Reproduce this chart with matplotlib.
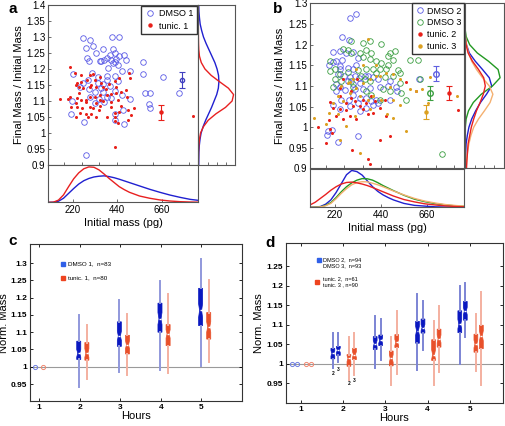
import numpy as np
import matplotlib.pyplot as plt
from matplotlib.lines import Line2D
from matplotlib.ticker import MultipleLocator, FuncFormatter

plt.rcParams['font.family'] = ['Liberation Sans', 'DejaVu Sans']

# ---------------- panel a : scatter data (initial mass pg, final/initial) ----------
dmso1_mass = [271, 304, 320, 284, 290, 300, 336, 369, 415, 448, 418, 427, 402, 389, 353, 361, 377, 410,
              435, 448, 471, 484, 427, 443, 418, 566, 569, 505, 463, 394, 664, 222, 317, 427, 443, 389,
              345, 271, 254, 300, 372, 402, 361, 328, 369, 427, 307, 389, 410, 464, 218, 348, 377, 504,
              579, 602, 599, 602, 467, 431, 471, 213, 276, 427, 287, 746, 389, 345, 328, 295]
dmso1_ratio = [1.296, 1.291, 1.273, 1.267, 1.233, 1.226, 1.249, 1.261, 1.299, 1.299, 1.261, 1.251, 1.244,
               1.233, 1.226, 1.226, 1.228, 1.228, 1.230, 1.241, 1.244, 1.228, 1.223, 1.212, 1.218, 1.223,
               1.184, 1.195, 1.195, 1.202, 1.174, 1.184, 1.186, 1.178, 1.164, 1.166, 1.155, 1.157, 1.143,
               1.136, 1.153, 1.147, 1.140, 1.129, 1.129, 1.131, 1.111, 1.114, 1.108, 1.118, 1.101, 1.105,
               1.098, 1.107, 1.124, 1.124, 1.091, 1.077, 1.072, 1.058, 1.027, 1.058, 1.035, 1.041, 0.931,
               1.126, 1.178, 1.174, 1.093, 1.166]
tunic1_mass = [208, 230, 259, 304, 320, 353, 328, 290, 263, 241, 235, 251, 304, 336, 369, 399, 427, 451,
               497, 504, 484, 459, 435, 410, 389, 353, 328, 304, 287, 263, 241, 205, 197, 156, 235, 284,
               336, 372, 410, 443, 489, 353, 320, 304, 268, 241, 213, 254, 284, 312, 349, 427, 492, 525,
               508, 451, 427, 389, 238, 295, 336, 427, 443, 492, 427, 812, 361, 271, 386, 312, 410, 459,
               353, 251, 435]
tunic1_ratio = [1.207, 1.186, 1.181, 1.181, 1.184, 1.174, 1.166, 1.166, 1.160, 1.157, 1.150, 1.143, 1.145,
                1.143, 1.143, 1.153, 1.164, 1.173, 1.186, 1.171, 1.134, 1.129, 1.124, 1.122, 1.119, 1.119,
                1.114, 1.114, 1.103, 1.103, 1.108, 1.111, 1.105, 1.106, 1.093, 1.098, 1.093, 1.101, 1.098,
                1.103, 1.111, 1.084, 1.077, 1.080, 1.077, 1.080, 1.082, 1.061, 1.058, 1.058, 1.072, 1.061,
                1.072, 1.077, 1.056, 1.067, 1.051, 1.051, 1.049, 1.049, 1.051, 1.039, 1.032, 1.041, 0.955,
                1.053, 1.155, 1.140, 1.136, 1.150, 1.080, 1.084, 1.103, 1.126, 1.145]

# mean +- error bars (a)
a_err_mass = [759, 654]
a_err_mean = [1.166, 1.065]
a_err_half = [0.025, 0.024]

# marginal curves (a)
mass_grid = [100, 125, 150, 175, 200, 225, 250, 275, 300, 325, 350, 375, 400, 425, 450, 475, 500,
             550, 600, 650, 700, 750, 800, 840]
a_mass_dmso = [0, 0.003, 0.03, 0.11, 0.24, 0.37, 0.49, 0.58, 0.64, 0.68, 0.70, 0.71, 0.69, 0.66, 0.62,
               0.575, 0.53, 0.44, 0.35, 0.27, 0.196, 0.134, 0.08, 0.054]
a_mass_tunic = [0, 0.005, 0.06, 0.2, 0.42, 0.63, 0.79, 0.9, 0.95, 0.94, 0.87, 0.76, 0.64, 0.53, 0.42,
                0.34, 0.27, 0.17, 0.11, 0.065, 0.036, 0.018, 0.009, 0.005]
a_ratio_grid = [0.90, 0.92, 0.94, 0.96, 0.98, 1.00, 1.02, 1.04, 1.06, 1.08, 1.10, 1.12, 1.14, 1.16, 1.18,
                1.20, 1.22, 1.24, 1.26, 1.28, 1.30, 1.32, 1.34, 1.36, 1.38, 1.40]
a_ratio_dmso = [0.01, 0.012, 0.015, 0.025, 0.045, 0.075, 0.13, 0.2, 0.28, 0.36, 0.43, 0.5, 0.545, 0.56,
                0.55, 0.51, 0.45, 0.37, 0.29, 0.21, 0.14, 0.09, 0.05, 0.03, 0.015, 0.01]
a_ratio_tunic = [0, 0.002, 0.005, 0.012, 0.03, 0.06, 0.14, 0.27, 0.48, 0.74, 0.92, 0.96, 0.82, 0.58, 0.35,
                 0.18, 0.08, 0.03, 0.012, 0.005, 0.002, 0, 0, 0, 0, 0]

# ---------------- panel b : scatter data ------------------------------------------
dmso2_mass = [290, 319, 255, 287, 210, 246, 271, 306, 330, 255, 226, 210, 191, 246, 282, 306, 322, 246,
              234, 262, 290, 314, 335, 362, 378, 402, 426, 282, 306, 338, 223, 246, 266, 314, 354, 386,
              434, 474, 514, 223, 306, 338, 370, 418, 250, 287, 330, 394, 426, 482, 290, 210, 242, 338,
              370, 402, 186, 182, 207, 234, 330, 518, 623, 482]
dmso2_ratio = [1.265, 1.275, 1.219, 1.211, 1.182, 1.184, 1.180, 1.182, 1.168, 1.164, 1.160, 1.158, 1.152,
               1.148, 1.144, 1.140, 1.150, 1.140, 1.128, 1.125, 1.122, 1.124, 1.120, 1.125, 1.125, 1.122,
               1.117, 1.112, 1.104, 1.108, 1.104, 1.098, 1.090, 1.092, 1.093, 1.096, 1.098, 1.101, 1.098,
               1.087, 1.079, 1.071, 1.071, 1.067, 1.067, 1.067, 1.059, 1.063, 1.059, 1.067, 1.051, 1.055,
               1.043, 1.039, 1.047, 1.053, 0.991, 0.980, 0.993, 0.964, 0.978, 1.087, 1.117, 1.112]
dmso3_mass = [298, 354, 386, 442, 482, 506, 258, 282, 298, 338, 367, 394, 474, 354, 386, 418, 442, 474,
              498, 522, 530, 578, 618, 194, 218, 194, 246, 282, 330, 370, 402, 434, 466, 218, 250, 298,
              362, 386, 418, 458, 498, 530, 626, 210, 306, 370, 450, 482, 538, 562, 434, 732, 394, 346]
dmso3_ratio = [1.209, 1.205, 1.209, 1.201, 1.180, 1.184, 1.190, 1.188, 1.180, 1.180, 1.187, 1.180, 1.172,
               1.171, 1.166, 1.160, 1.156, 1.152, 1.163, 1.138, 1.132, 1.164, 1.163, 1.160, 1.140, 1.136,
               1.130, 1.134, 1.138, 1.140, 1.140, 1.140, 1.140, 1.116, 1.112, 1.112, 1.116, 1.112, 1.132,
               1.122, 1.124, 1.108, 1.116, 1.098, 1.098, 1.087, 1.092, 1.087, 1.083, 1.067, 1.067, 0.936,
               1.079, 1.125]
tunic2_mass = [138, 175, 198, 204, 191, 210, 194, 246, 271, 298, 338, 370, 410, 458, 246, 274, 306, 378,
               402, 223, 258, 290, 354, 434, 482, 303, 378, 386, 434, 562, 610, 810, 394, 354, 314, 246,
               298, 326, 258, 322, 466]
tunic2_ratio = [1.001, 0.961, 0.996, 0.986, 1.017, 1.047, 1.061, 1.075, 1.059, 1.071, 1.051, 1.059, 1.063,
                1.067, 1.043, 1.041, 1.051, 1.031, 1.035, 1.027, 1.020, 1.027, 1.043, 1.047, 0.978, 0.944,
                0.923, 0.910, 0.970, 1.109, 1.087, 1.041, 1.075, 1.067, 1.063, 1.096, 1.087, 1.116, 1.116,
                1.019, 1.027]
tunic3_mass = [119, 175, 191, 210, 234, 258, 290, 322, 338, 378, 402, 442, 498, 250, 282, 306, 354, 386,
               418, 466, 498, 530, 578, 610, 676, 354, 378, 290, 322, 418, 434, 242, 342, 314, 234, 274,
               386, 498, 530, 562, 666, 804, 638, 470, 482]
tunic3_ratio = [1.023, 1.009, 1.035, 1.059, 1.075, 1.063, 1.083, 1.096, 1.075, 1.066, 1.075, 1.067, 1.067,
                1.100, 1.108, 1.116, 1.108, 1.116, 1.124, 1.132, 1.128, 1.116, 1.092, 1.087, 1.121, 1.152,
                1.213, 1.109, 1.140, 1.152, 1.124, 0.970, 0.938, 1.027, 1.031, 1.003, 1.043, 1.023, 1.055,
                0.991, 1.058, 1.075, 1.092, 1.031, 1.098]

b_err_mass = [703, 675, 764, 655]
b_err_mean = [1.130, 1.083, 1.082, 1.037]
b_err_half = [0.018, 0.017, 0.017, 0.017]

b_mass_dmso2 = [0, 0.005, 0.02, 0.08, 0.19, 0.38, 0.61, 0.84, 0.95, 0.92, 0.83, 0.68, 0.53, 0.41, 0.32,
                0.25, 0.19, 0.10, 0.05, 0.03, 0.012, 0.006, 0.003, 0.002]
b_mass_tunic2 = [0.06, 0.13, 0.23, 0.33, 0.44, 0.53, 0.60, 0.64, 0.65, 0.63, 0.60, 0.56, 0.51, 0.455, 0.40,
                 0.345, 0.29, 0.20, 0.14, 0.09, 0.06, 0.035, 0.02, 0.012]
b_mass_dmso3 = [0, 0.002, 0.01, 0.05, 0.12, 0.25, 0.40, 0.53, 0.63, 0.70, 0.74, 0.735, 0.70, 0.635, 0.56,
                0.495, 0.43, 0.31, 0.21, 0.145, 0.094, 0.06, 0.035, 0.025]
b_mass_tunic3 = [0, 0.002, 0.01, 0.04, 0.10, 0.22, 0.36, 0.48, 0.58, 0.64, 0.66, 0.655, 0.62, 0.58, 0.53,
                 0.475, 0.42, 0.32, 0.23, 0.16, 0.11, 0.07, 0.045, 0.03]
b_ratio_grid = [0.90, 0.92, 0.94, 0.96, 0.98, 1.00, 1.02, 1.04, 1.06, 1.08, 1.10, 1.12, 1.14, 1.16, 1.18,
                1.20, 1.22, 1.24, 1.26, 1.28, 1.30]
b_ratio_dmso2 = [0.015, 0.02, 0.03, 0.04, 0.07, 0.11, 0.18, 0.28, 0.40, 0.55, 0.68, 0.62, 0.45, 0.27, 0.12,
                 0.05, 0.025, 0.01, 0.005, 0.002, 0]
b_ratio_dmso3 = [0, 0, 0.002, 0.004, 0.008, 0.02, 0.04, 0.10, 0.22, 0.42, 0.70, 0.89, 0.84, 0.60, 0.32,
                 0.13, 0.04, 0.012, 0.004, 0.001, 0]
b_ratio_tunic2 = [0.05, 0.06, 0.075, 0.09, 0.13, 0.17, 0.23, 0.30, 0.39, 0.47, 0.52, 0.48, 0.35, 0.2, 0.09,
                  0.04, 0.015, 0.006, 0.002, 0.001, 0]
b_ratio_tunic3 = [0.04, 0.055, 0.075, 0.11, 0.16, 0.23, 0.35, 0.50, 0.64, 0.71, 0.62, 0.45, 0.30, 0.18, 0.10,
                  0.05, 0.025, 0.012, 0.006, 0.003, 0.001]

# ---------------- panel c : box stats per hour ---------------------------------------
hours = [1, 2, 3, 4, 5]
box_hours = [2, 3, 4, 5]
c_dmso = dict(med=[1.039, 1.089, 1.138, 1.163], q1=[1.021, 1.059, 1.100, 1.119], q3=[1.074, 1.130, 1.184, 1.227],
              lo=[0.942, 0.984, 0.992, 1.002], hi=[1.149, 1.192, 1.247, 1.313],
              cilo=[1.028, 1.076, 1.122, 1.142], cihi=[1.050, 1.103, 1.157, 1.183])
c_tunic = dict(med=[1.039, 1.063, 1.095, 1.115], q1=[1.019, 1.037, 1.061, 1.080], q3=[1.070, 1.091, 1.122, 1.157],
               lo=[0.965, 0.976, 0.982, 1.014], hi=[1.120, 1.154, 1.210, 1.252],
               cilo=[1.027, 1.052, 1.083, 1.100], cihi=[1.052, 1.076, 1.107, 1.130])

# ---------------- panel d : box stats per hour ---------------------------------------
d_dmso2 = dict(med=[1.027, 1.052, 1.085, 1.101], q1=[1.013, 1.037, 1.053, 1.080], q3=[1.040, 1.070, 1.109, 1.136],
               lo=[0.989, 0.990, 0.985, 1.000], hi=[1.078, 1.122, 1.178, 1.199],
               cilo=[1.020, 1.044, 1.073, 1.090], cihi=[1.034, 1.060, 1.097, 1.114])
d_dmso3 = dict(med=[1.035, 1.060, 1.093, 1.135], q1=[1.022, 1.047, 1.079, 1.112], q3=[1.045, 1.074, 1.115, 1.160],
               lo=[1.004, 1.010, 1.035, 1.070], hi=[1.078, 1.114, 1.160, 1.208],
               cilo=[1.029, 1.053, 1.085, 1.126], cihi=[1.041, 1.067, 1.101, 1.145])
d_tunic2 = dict(med=[1.014, 1.014, 1.024, 1.051], q1=[0.994, 0.995, 1.009, 1.030], q3=[1.024, 1.033, 1.062, 1.076],
                lo=[0.960, 0.947, 0.947, 0.983], hi=[1.068, 1.068, 1.111, 1.129],
                cilo=[1.006, 1.004, 1.012, 1.041], cihi=[1.021, 1.024, 1.036, 1.061])
d_tunic3 = dict(med=[1.024, 1.055, 1.064, 1.072], q1=[1.011, 1.042, 1.043, 1.039], q3=[1.040, 1.075, 1.089, 1.099],
                lo=[0.972, 0.974, 0.980, 0.947], hi=[1.079, 1.136, 1.147, 1.185],
                cilo=[1.017, 1.047, 1.054, 1.059], cihi=[1.031, 1.063, 1.074, 1.085])

BLUE_C = '#5a5ae6'
GREEN_C = '#3a9e40'
RED_D = '#e8201a'
ORANGE_D = '#dca020'
SPINE = '#555555'
gfmt = FuncFormatter(lambda v, p: '%g' % round(v, 3))

fig = plt.figure(figsize=(5.06, 4.26), dpi=100)


def style(ax, labels_x=False, labels_y=False):
    for s in ax.spines.values():
        s.set_color(SPINE)
        s.set_linewidth(0.8)
    ax.tick_params(direction='in', length=2.5, width=0.6, color=SPINE, labelsize=7, pad=2,
                   labelbottom=labels_x, labelleft=labels_y)


def scatter_panel(ax, groups, ylim, ylabel):
    for mass, ratio, kind, col in groups:
        if kind == 'circle':
            ax.plot(mass, ratio, 'o', ms=4, mfc='none', mec=col, mew=0.6, ls='none')
        else:
            ax.plot(mass, ratio, 'o', ms=2.2, mfc=col, mec=col, mew=0, ls='none')
    ax.set_xlim(100, 840)
    ax.set_ylim(*ylim)
    ax.yaxis.set_major_locator(MultipleLocator(0.05))
    ax.yaxis.set_major_formatter(gfmt)
    ax.xaxis.set_major_locator(MultipleLocator(88))
    style(ax, labels_y=True)
    ax.set_ylabel(ylabel, fontsize=8)
    ax.yaxis.set_label_coords(-0.16, 0.5)


# ---- a ----
ax_a = fig.add_axes([0.0955, 0.6127, 0.2964, 0.3756])
scatter_panel(ax_a, [(dmso1_mass, dmso1_ratio, 'circle', BLUE_C),
                     (tunic1_mass, tunic1_ratio, 'dot', RED_D)], (0.9, 1.4), 'Final Mass / Initial Mass')
ax_a.errorbar(a_err_mass[0], a_err_mean[0], yerr=a_err_half[0], fmt='o', ms=3, mfc='none', mec='#4040c0',
              ecolor='#4040c0', elinewidth=0.8, capsize=2, capthick=0.8)
ax_a.errorbar(a_err_mass[1], a_err_mean[1], yerr=a_err_half[1], fmt='o', ms=2.2, color=RED_D,
              elinewidth=0.8, capsize=2, capthick=0.8)
ax_a.legend(handles=[Line2D([], [], marker='o', ls='none', ms=4, mfc='none', mec=BLUE_C, mew=0.6),
                     Line2D([], [], marker='o', ls='none', ms=2.2, color=RED_D)],
            labels=['DMSO 1', 'tunic. 1'], loc='upper right', bbox_to_anchor=(0.99, 0.995),
            borderaxespad=0, fontsize=6.5, handlelength=1.2, handletextpad=0.4, labelspacing=0.35,
            fancybox=False, edgecolor='#333333', framealpha=1, borderpad=0.4)

ax_ab = fig.add_axes([0.0955, 0.525, 0.2964, 0.0876])
ax_ab.plot(mass_grid, a_mass_dmso, color='#2020d0', lw=1)
ax_ab.plot(mass_grid, a_mass_tunic, color='#e82020', lw=1)
ax_ab.set_xlim(100, 840)
ax_ab.set_ylim(0, 1.0)
ax_ab.set_xticks([220, 440, 660])
ax_ab.set_yticks([])
style(ax_ab, labels_x=True)
ax_ab.set_xlabel('Initial mass (pg)', fontsize=8, labelpad=2)

ax_ar = fig.add_axes([0.392, 0.6127, 0.0725, 0.3756])
ax_ar.plot(a_ratio_dmso, a_ratio_grid, color='#2020d0', lw=1)
ax_ar.plot(a_ratio_tunic, a_ratio_grid, color='#e82020', lw=1)
ax_ar.set_ylim(0.9, 1.4)
ax_ar.set_xlim(0, 1.0)
ax_ar.xaxis.set_major_locator(MultipleLocator(0.25))
ax_ar.set_yticks([])
style(ax_ar)

# ---- b ----
ax_b = fig.add_axes([0.6126, 0.6045, 0.3053, 0.3873])
scatter_panel(ax_b, [(dmso2_mass, dmso2_ratio, 'circle', BLUE_C),
                     (dmso3_mass, dmso3_ratio, 'circle', GREEN_C),
                     (tunic2_mass, tunic2_ratio, 'dot', RED_D),
                     (tunic3_mass, tunic3_ratio, 'dot', ORANGE_D)], (0.9, 1.3), 'Final Mass / Inital Mass')
b_err_cols = ['#6060e0', GREEN_C, RED_D, ORANGE_D]
for i in range(4):
    if i < 2:
        ax_b.errorbar(b_err_mass[i], b_err_mean[i], yerr=b_err_half[i], fmt='o', ms=4, mfc='none',
                      mec=b_err_cols[i], ecolor=b_err_cols[i], elinewidth=0.8, capsize=2, capthick=0.8)
    else:
        ax_b.errorbar(b_err_mass[i], b_err_mean[i], yerr=b_err_half[i], fmt='o', ms=2.2, color=b_err_cols[i],
                      elinewidth=0.8, capsize=2, capthick=0.8)
ax_b.legend(handles=[Line2D([], [], marker='o', ls='none', ms=4, mfc='none', mec=BLUE_C, mew=0.6),
                     Line2D([], [], marker='o', ls='none', ms=4, mfc='none', mec=GREEN_C, mew=0.6),
                     Line2D([], [], marker='o', ls='none', ms=2.2, color=RED_D),
                     Line2D([], [], marker='o', ls='none', ms=2.2, color=ORANGE_D)],
            labels=['DMSO 2', 'DMSO 3', 'tunic. 2', 'tunic. 3'], loc='upper right', bbox_to_anchor=(1.0, 1.0),
            borderaxespad=0, fontsize=6.5, handlelength=1.0, handletextpad=0.3, labelspacing=0.3,
            fancybox=False, edgecolor='#333333', framealpha=1, borderpad=0.35)

ax_bb = fig.add_axes([0.6126, 0.5134, 0.3053, 0.091])
ax_bb.plot(mass_grid, b_mass_dmso2, color='#2020d0', lw=1)
ax_bb.plot(mass_grid, b_mass_dmso3, color='#229922', lw=1)
ax_bb.plot(mass_grid, b_mass_tunic3, color='#f4b070', lw=1)
ax_bb.plot(mass_grid, b_mass_tunic2, color='#e82020', lw=1)
ax_bb.set_xlim(100, 840)
ax_bb.set_ylim(0, 1.0)
ax_bb.set_xticks([220, 440, 660])
ax_bb.set_yticks([])
style(ax_bb, labels_x=True)
ax_bb.set_xlabel('Initial mass (pg)', fontsize=8, labelpad=2)

ax_br = fig.add_axes([0.918, 0.6045, 0.079, 0.3873])
ax_br.plot(b_ratio_dmso2, b_ratio_grid, color='#2020d0', lw=1)
ax_br.plot(b_ratio_dmso3, b_ratio_grid, color='#229922', lw=1)
ax_br.plot(b_ratio_tunic3, b_ratio_grid, color='#f4b070', lw=1)
ax_br.plot(b_ratio_tunic2, b_ratio_grid, color='#e82020', lw=1)
ax_br.set_ylim(0.9, 1.3)
ax_br.set_xlim(0, 1.0)
ax_br.xaxis.set_major_locator(MultipleLocator(0.25))
ax_br.set_yticks([])
style(ax_br)


# ---- c and d : notched boxes ----
def boxes(ax, st, offset, dark, light, w):
    stats = []
    for i in range(len(box_hours)):
        stats.append(dict(med=st['med'][i], q1=st['q1'][i], q3=st['q3'][i], whislo=st['lo'][i],
                          whishi=st['hi'][i], cilo=st['cilo'][i], cihi=st['cihi'][i], fliers=[]))
    ax.bxp(stats, positions=[h + offset for h in box_hours], widths=w, shownotches=True, showfliers=False,
           showcaps=False, patch_artist=True, manage_ticks=False,
           boxprops=dict(facecolor=dark, edgecolor=dark, lw=0.5),
           whiskerprops=dict(color=light, lw=1.4),
           medianprops=dict(color='white', lw=1.0))


def box_axes(ax, ylim, yticks):
    ax.axhline(1.0, color='#9a9a9a', lw=0.8, zorder=0)
    ax.set_ylim(*ylim)
    ax.set_yticks(yticks)
    ax.yaxis.set_major_formatter(gfmt)
    ax.set_xticks(hours)
    for s in ax.spines.values():
        s.set_color('#333333')
        s.set_linewidth(0.8)
    ax.tick_params(direction='in', length=2.5, width=0.6, labelsize=6, pad=2, top=True, right=True)
    for t in ax.get_xticklabels() + ax.get_yticklabels():
        t.set_fontweight('bold')
    ax.set_xlabel('Hours', fontsize=8, labelpad=0)
    ax.set_ylabel('Norm. Mass', fontsize=8)


ax_c = fig.add_axes([0.0593, 0.058, 0.419, 0.369])
ax_c.plot([0.9], [1.0], 'o', ms=3, mfc='none', mec='#7080e0', mew=0.7)
ax_c.plot([1.1], [1.0], 'o', ms=3, mfc='none', mec='#f08870', mew=0.7)
boxes(ax_c, c_dmso, -0.02, '#0a18c0', '#9098dc', 0.1)
boxes(ax_c, c_tunic, 0.18, '#e8502a', '#f4b0a0', 0.1)
ax_c.set_xlim(0.78, 6.0)
box_axes(ax_c, (0.9, 1.355), [0.95, 1.0, 1.05, 1.1, 1.15, 1.2, 1.25, 1.3])
ax_c.yaxis.set_label_coords(-0.1, 0.5)
ax_c.plot([0.156], [0.874], 's', ms=3.5, color='#3060e8', transform=ax_c.transAxes)
ax_c.plot([0.156], [0.786], 's', ms=3.5, color='#ee4420', transform=ax_c.transAxes)
ax_c.text(0.18, 0.874, 'DMSO 1,  n=83', fontsize=4.5, va='center', transform=ax_c.transAxes)
ax_c.text(0.18, 0.786, 'tunic. 1,  n=80', fontsize=4.5, va='center', transform=ax_c.transAxes)

ax_d = fig.add_axes([0.565, 0.054, 0.429, 0.376])
ax_d.plot([0.8, 0.91], [1.0, 1.0], 'o', ms=3, mfc='none', mec='#7080e0', mew=0.7, ls='none')
ax_d.plot([1.12, 1.24], [1.0, 1.0], 'o', ms=3, mfc='none', mec='#f08870', mew=0.7, ls='none')
boxes(ax_d, d_dmso2, -0.24, '#0a18c0', '#7c84d4', 0.09)
boxes(ax_d, d_dmso3, -0.11, '#0a18c0', '#7c84d4', 0.09)
boxes(ax_d, d_tunic2, 0.14, '#e8502a', '#f4b0a0', 0.09)
boxes(ax_d, d_tunic3, 0.27, '#e8502a', '#f4b0a0', 0.09)
ax_d.set_xlim(0.65, 5.78)
box_axes(ax_d, (0.9, 1.31), [0.95, 1.0, 1.05, 1.1, 1.15, 1.2, 1.25])
ax_d.yaxis.set_label_coords(-0.1, 0.5)
for xx, yy, s in [(1.76, 0.975, '2'), (1.89, 0.986, '3'), (2.14, 0.949, '2'), (2.27, 0.958, '3')]:
    ax_d.text(xx, yy, s, fontsize=3.5, fontweight='bold', ha='center', va='center')
ax_d.plot([0.154], [0.89], 's', ms=3.5, color='#3060e8', transform=ax_d.transAxes)
ax_d.plot([0.143], [0.757], 's', ms=3.5, color='#ee4420', transform=ax_d.transAxes)
ax_d.text(0.17, 0.892, 'DMSO 2,  n=94', fontsize=4, va='center', transform=ax_d.transAxes)
ax_d.text(0.17, 0.855, 'DMSO 3,  n=93', fontsize=4, va='center', transform=ax_d.transAxes)
ax_d.text(0.17, 0.778, 'tunic. 2,  n=61', fontsize=4, va='center', transform=ax_d.transAxes)
ax_d.text(0.17, 0.741, 'tunic. 3 , n=90', fontsize=4, va='center', transform=ax_d.transAxes)

for x, y, s in [(0.025, 0.978, 'a'), (0.549, 0.978, 'b'), (0.025, 0.434, 'c'), (0.533, 0.430, 'd')]:
    fig.text(x, y, s, fontsize=11, fontweight='bold', ha='center', va='center')

fig.savefig('out.png', dpi=100)
